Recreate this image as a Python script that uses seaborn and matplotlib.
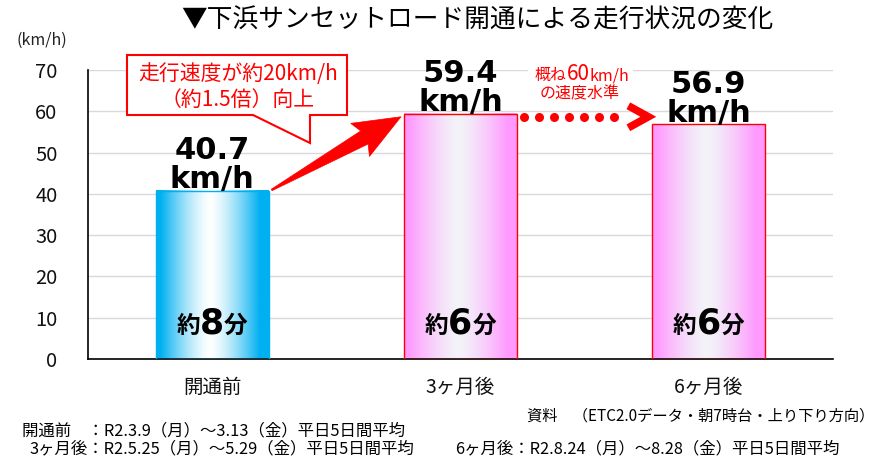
import numpy as np
import pandas as pd
import matplotlib
matplotlib.use("Agg")
import matplotlib.pyplot as plt
import seaborn as sns
from matplotlib.patches import Polygon, Rectangle
from matplotlib.colors import to_rgb

# ---------------- data ----------------
categories = ["開通前", "3ヶ月後", "6ヶ月後"]
speeds = [40.7, 59.4, 56.9]
travel_minutes = ["8", "6", "6"]
y_ticks = [0, 10, 20, 30, 40, 50, 60, 70]
edge_colors = ["#00B0F0", "#FF99FF", "#FF99FF"]
center_colors = ["#FFFFFF", "#F3F3F8", "#F3F3F8"]
outline_colors = ["#00B0F0", "#FF0000", "#FF0000"]

title = "▼下浜サンセットロード開通による走行状況の変化"
unit_label = "(km/h)"
callout_text = "走行速度が約20km/h\n（約1.5倍）向上"
level_parts = ["概ね", "60", "km/h"]
level_line2 = "の速度水準"
notes_left = ["開通前　：R2.3.9（月）～3.13（金）平日5日間平均",
              "3ヶ月後：R2.5.25（月）～5.29（金）平日5日間平均"]
note_source = "資料　（ETC2.0データ・朝7時台・上り下り方向）"
note_right = "6ヶ月後：R2.8.24（月）～8.28（金）平日5日間平均"

# ---------------- setup ----------------
sns.set_theme(style="white")
plt.rcParams['font.family'] = ['Noto Sans CJK JP', 'DejaVu Sans']

W, H = 874, 457
fig = plt.figure(figsize=(W / 100, H / 100), dpi=100)
ax = fig.add_axes([88 / W, 1 - 359 / H, 745 / W, 289 / H])

def fx(x):
    return x / W

def fy(y):
    return 1 - y / H

df = pd.DataFrame({"category": categories, "speed": speeds})
BAR_W = 0.455
sns.barplot(data=df, x="category", y="speed", ax=ax, width=BAR_W,
            color="white", saturation=1, zorder=3)

ax.set_xlim(-0.5, 2.5)
ax.set_ylim(0, 70)

# gradient fills
for i, p in enumerate(ax.patches):
    x0, w, h = p.get_x(), p.get_width(), p.get_height()
    t = np.linspace(0, 1, 300)
    d = np.clip(np.abs(t - 0.48) / 0.44, 0, 1) ** 1.4
    c_edge = np.array(to_rgb(edge_colors[i]))
    c_mid = np.array(to_rgb(center_colors[i]))
    img = (c_mid[None, :] * (1 - d[:, None]) + c_edge[None, :] * d[:, None])[None, :, :]
    ax.imshow(img, extent=(x0, x0 + w, 0, h), aspect='auto', zorder=2.5,
              interpolation='bilinear')
    p.set_facecolor('none')
    p.set_edgecolor(outline_colors[i])
    p.set_linewidth(1.0)

ax.set_xlim(-0.5, 2.5)
ax.set_ylim(0, 70)

# axes styling
ax.set_yticks(y_ticks)
ax.yaxis.grid(True, color='#D9D9D9', lw=1.0)
ax.xaxis.grid(False)
ax.set_axisbelow(True)
for s in ["top", "right"]:
    ax.spines[s].set_visible(False)
for s in ["left", "bottom"]:
    ax.spines[s].set_color('black')
    ax.spines[s].set_linewidth(1.2)
ax.set_xlabel("")
ax.set_ylabel("")
ax.tick_params(axis='y', length=0, pad=22, labelsize=14.5, labelcolor='#111111')
ax.tick_params(axis='x', which='major', length=0, pad=13, labelsize=14, labelcolor='#111111')
ax.set_xticks([-0.5, 0.5, 1.5, 2.5], minor=True)
ax.tick_params(axis='x', which='minor', length=6, width=1.2, color='black', direction='out')

# value labels
for i, v in enumerate(speeds):
    ax.annotate(f"{v}\nkm/h", xy=(i, v), xytext=(0, -2.5), textcoords='offset points',
                ha='center', va='bottom', fontsize=22, fontweight='bold',
                family='DejaVu Sans', linespacing=1.0, color='black', zorder=6)

# inner travel time labels
for i, m in enumerate(travel_minutes):
    t8 = ax.text(i, 8.5, m, ha='center', va='center', fontsize=25, fontweight='bold',
                 family='DejaVu Sans', color='black', zorder=6)
    ax.annotate("約", xy=(0, 0.45), xycoords=t8, ha='right', va='center',
                fontsize=17, fontweight='bold', color='black', zorder=6)
    ax.annotate("分", xy=(1, 0.45), xycoords=t8, ha='left', va='center',
                fontsize=17, fontweight='bold', color='black', zorder=6)

# helpers: data -> pixel -> figure fraction
fig.canvas.draw()
def d2p(x, y):
    return ax.transData.transform((x, y))

inv_fig = fig.transFigure.inverted()

# big red arrow from bar1 top-right to bar2 top-left
tail = d2p(0 + BAR_W / 2, speeds[0]) + np.array([3, 1])
tip = d2p(1 - BAR_W / 2, speeds[1]) + np.array([-3, -3])
u = (tip - tail) / np.linalg.norm(tip - tail)
n = np.array([-u[1], u[0]])
hl, hw, sw, tw = 42, 19, 7.5, 0.8
base = tip - u * hl
pts = [tail + n * tw, base + n * sw, base + n * hw - u * 5, tip,
       base - n * hw - u * 5, base - n * sw, tail - n * tw]
pts = [inv_fig.transform(p) for p in pts]
ax.add_patch(Polygon(pts, closed=True, transform=fig.transFigure, facecolor='#FF0000',
                     edgecolor='#FF0000', lw=0.5, zorder=7, clip_on=False))

# dotted red arrow from bar2 to bar3
start = d2p(1 + BAR_W / 2, speeds[1]) + np.array([7, -3])
end_tip = d2p(2 - BAR_W / 2, speeds[1]) + np.array([-4, -3])
n_dots = int((end_tip[0] - 30 - start[0]) // 15) + 1
dots = np.array([inv_fig.transform(start + np.array([15 * k, 0])) for k in range(n_dots)])
ax.plot(dots[:, 0], dots[:, 1], transform=fig.transFigure, linestyle='none',
        marker='o', markersize=6.5, color='#FF0000', markeredgewidth=0, zorder=7,
        clip_on=False)
chev = [end_tip + np.array([-20, 11]), end_tip, end_tip + np.array([-20, -11])]
chev = np.array([inv_fig.transform(c) for c in chev])
ax.plot(chev[:, 0], chev[:, 1], transform=fig.transFigure, color='#FF0000', lw=5.5,
        solid_joinstyle='miter', solid_capstyle='butt', zorder=7, clip_on=False)

# callout box
box = [(127, 55), (347, 55), (347, 115), (310, 115), (310, 143), (253, 115), (127, 115)]
box = [(fx(x), fy(y)) for x, y in box]
ax.add_patch(Polygon(box, closed=True, transform=fig.transFigure, facecolor='white',
                     edgecolor='#FF0000', lw=1.5, zorder=8, clip_on=False))
fig.text(fx(238), fy(87), callout_text, ha='center', va='center', fontsize=15,
         color='#FF0000', linespacing=1.2, zorder=9)

# level text ("60" emphasised), white backing over the gridline
ax.add_patch(Rectangle((fx(528), fy(82)), 105 / W, 16 / H, transform=fig.transFigure,
                       facecolor='white', edgecolor='none', zorder=5, clip_on=False))
t60 = ax.annotate(level_parts[1], xy=(fx(578), fy(74)), xycoords='figure fraction',
                  ha='center', va='center', fontsize=15, color='#FF0000', zorder=9,
                  annotation_clip=False)
ax.annotate(level_parts[0], xy=(0, 0), xycoords=t60, ha='right', va='bottom',
            fontsize=11.5, color='#FF0000', zorder=9, xytext=(0, 0.5),
            textcoords='offset points', annotation_clip=False)
ax.annotate(level_parts[2], xy=(1, 0), xycoords=t60, ha='left', va='bottom',
            fontsize=11.5, color='#FF0000', zorder=9, xytext=(0, 0.5),
            textcoords='offset points', annotation_clip=False)
fig.text(fx(580), fy(94), level_line2, ha='center', va='center', fontsize=11.5,
         color='#FF0000', zorder=9)

# title and unit
fig.text(fx(477), fy(21), title, ha='center', va='center', fontsize=18.5, color='black')
fig.text(fx(42), fy(40), unit_label, ha='center', va='center', fontsize=11.5, color='#222222')

# notes
fig.text(fx(22), fy(431), notes_left[0], ha='left', va='center', fontsize=11.8, color='black')
fig.text(fx(30), fy(449), notes_left[1], ha='left', va='center', fontsize=11.8, color='black')
fig.text(fx(527), fy(416), note_source, ha='left', va='center', fontsize=11, color='black')
fig.text(fx(455), fy(449), note_right, ha='left', va='center', fontsize=11.8, color='black')

fig.savefig("out.png", dpi=100)
